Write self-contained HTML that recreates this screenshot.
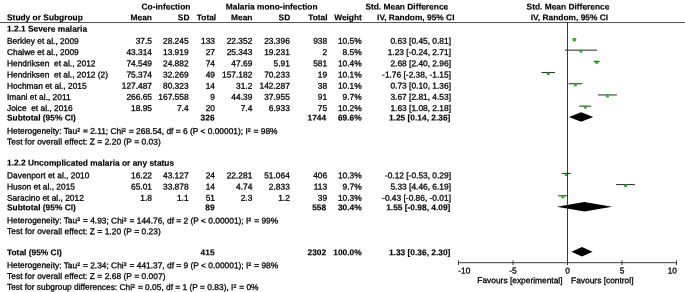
<!DOCTYPE html>
<html><head><meta charset="utf-8"><title>Forest plot</title>
<style>
html,body{margin:0;padding:0;background:#fff;}
svg{display:block;}
text{font-family:"Liberation Sans",sans-serif;font-size:8.4px;fill:#000;text-rendering:geometricPrecision;stroke:#000;stroke-width:0.28px;}
text[font-weight=bold]{stroke-width:0.15px;}
</style></head><body>
<svg width="685" height="292" viewBox="0 0 685 292">
<rect width="685" height="292" fill="#fff"/>
<text x="166.00" y="9.45" transform="rotate(0.05,166.00,9.45)" text-anchor="middle" font-weight="bold" xml:space="preserve">Co-infection</text>
<text x="271.70" y="9.45" transform="rotate(0.05,271.70,9.45)" text-anchor="middle" font-weight="bold" xml:space="preserve">Malaria mono-infection</text>
<text x="406.80" y="9.45" transform="rotate(0.05,406.80,9.45)" text-anchor="middle" font-weight="bold" xml:space="preserve">Std. Mean Difference</text>
<text x="568.00" y="9.45" transform="rotate(0.05,568.00,9.45)" text-anchor="middle" font-weight="bold" xml:space="preserve">Std. Mean Difference</text>
<text x="7.00" y="20.20" transform="rotate(0.05,7.00,20.20)" font-weight="bold" xml:space="preserve">Study or Subgroup</text>
<text x="152.00" y="20.20" transform="rotate(0.05,152.00,20.20)" text-anchor="end" font-weight="bold" xml:space="preserve">Mean</text>
<text x="189.50" y="20.20" transform="rotate(0.05,189.50,20.20)" text-anchor="end" font-weight="bold" xml:space="preserve">SD</text>
<text x="216.20" y="20.20" transform="rotate(0.05,216.20,20.20)" text-anchor="end" font-weight="bold" xml:space="preserve">Total</text>
<text x="252.50" y="20.20" transform="rotate(0.05,252.50,20.20)" text-anchor="end" font-weight="bold" xml:space="preserve">Mean</text>
<text x="290.20" y="20.20" transform="rotate(0.05,290.20,20.20)" text-anchor="end" font-weight="bold" xml:space="preserve">SD</text>
<text x="327.60" y="20.20" transform="rotate(0.05,327.60,20.20)" text-anchor="end" font-weight="bold" xml:space="preserve">Total</text>
<text x="361.90" y="20.20" transform="rotate(0.05,361.90,20.20)" text-anchor="end" font-weight="bold" xml:space="preserve">Weight</text>
<text x="415.80" y="20.20" transform="rotate(0.05,415.80,20.20)" text-anchor="middle" font-weight="bold" xml:space="preserve">IV, Random, 95% CI</text>
<text x="569.40" y="20.20" transform="rotate(0.05,569.40,20.20)" text-anchor="middle" font-weight="bold" xml:space="preserve">IV, Random, 95% CI</text>
<line x1="0" y1="22.55" x2="685" y2="22.55" stroke="#222" stroke-width="0.8"/>
<text x="7.00" y="31.60" transform="rotate(0.05,7.00,31.60)" font-weight="bold" xml:space="preserve">1.2.1 Severe malaria</text>
<text x="7.00" y="43.85" transform="rotate(0.05,7.00,43.85)" xml:space="preserve">Berkley et al., 2009</text>
<text x="152.00" y="43.85" transform="rotate(0.05,152.00,43.85)" text-anchor="end" xml:space="preserve">37.5</text>
<text x="188.60" y="43.85" transform="rotate(0.05,188.60,43.85)" text-anchor="end" xml:space="preserve">28.245</text>
<text x="215.00" y="43.85" transform="rotate(0.05,215.00,43.85)" text-anchor="end" xml:space="preserve">133</text>
<text x="252.30" y="43.85" transform="rotate(0.05,252.30,43.85)" text-anchor="end" xml:space="preserve">22.352</text>
<text x="289.80" y="43.85" transform="rotate(0.05,289.80,43.85)" text-anchor="end" xml:space="preserve">23.396</text>
<text x="327.20" y="43.85" transform="rotate(0.05,327.20,43.85)" text-anchor="end" xml:space="preserve">938</text>
<text x="361.70" y="43.85" transform="rotate(0.05,361.70,43.85)" text-anchor="end" xml:space="preserve">10.5%</text>
<text x="451.00" y="43.85" transform="rotate(0.05,451.00,43.85)" text-anchor="end" xml:space="preserve">0.63 [0.45, 0.81]</text>
<line x1="572.40" y1="38.95" x2="576.33" y2="38.95" stroke="#1a1a1a" stroke-width="0.95"/>
<rect x="572.97" y="38.50" width="2.8" height="0.9" fill="#00c000" fill-opacity="0.55"/>
<rect x="572.97" y="39.40" width="2.8" height="1.95" fill="#00c000"/>
<text x="7.00" y="55.05" transform="rotate(0.05,7.00,55.05)" xml:space="preserve">Chalwe et al., 2009</text>
<text x="152.00" y="55.05" transform="rotate(0.05,152.00,55.05)" text-anchor="end" xml:space="preserve">43.314</text>
<text x="188.60" y="55.05" transform="rotate(0.05,188.60,55.05)" text-anchor="end" xml:space="preserve">13.919</text>
<text x="215.00" y="55.05" transform="rotate(0.05,215.00,55.05)" text-anchor="end" xml:space="preserve">27</text>
<text x="252.30" y="55.05" transform="rotate(0.05,252.30,55.05)" text-anchor="end" xml:space="preserve">25.343</text>
<text x="289.80" y="55.05" transform="rotate(0.05,289.80,55.05)" text-anchor="end" xml:space="preserve">19.231</text>
<text x="327.20" y="55.05" transform="rotate(0.05,327.20,55.05)" text-anchor="end" xml:space="preserve">2</text>
<text x="361.70" y="55.05" transform="rotate(0.05,361.70,55.05)" text-anchor="end" xml:space="preserve">8.5%</text>
<text x="451.00" y="55.05" transform="rotate(0.05,451.00,55.05)" text-anchor="end" xml:space="preserve">1.23 [-0.24, 2.71]</text>
<line x1="564.88" y1="50.15" x2="597.04" y2="50.15" stroke="#1a1a1a" stroke-width="0.95"/>
<rect x="579.51" y="49.70" width="2.8" height="0.9" fill="#00c000" fill-opacity="0.55"/>
<rect x="579.51" y="50.60" width="2.8" height="1.95" fill="#00c000"/>
<text x="7.00" y="66.25" transform="rotate(0.05,7.00,66.25)" xml:space="preserve">Hendriksen  et al., 2012</text>
<text x="152.00" y="66.25" transform="rotate(0.05,152.00,66.25)" text-anchor="end" xml:space="preserve">74.549</text>
<text x="188.60" y="66.25" transform="rotate(0.05,188.60,66.25)" text-anchor="end" xml:space="preserve">24.882</text>
<text x="215.00" y="66.25" transform="rotate(0.05,215.00,66.25)" text-anchor="end" xml:space="preserve">74</text>
<text x="252.30" y="66.25" transform="rotate(0.05,252.30,66.25)" text-anchor="end" xml:space="preserve">47.69</text>
<text x="289.80" y="66.25" transform="rotate(0.05,289.80,66.25)" text-anchor="end" xml:space="preserve">5.91</text>
<text x="327.20" y="66.25" transform="rotate(0.05,327.20,66.25)" text-anchor="end" xml:space="preserve">581</text>
<text x="361.70" y="66.25" transform="rotate(0.05,361.70,66.25)" text-anchor="end" xml:space="preserve">10.4%</text>
<text x="451.00" y="66.25" transform="rotate(0.05,451.00,66.25)" text-anchor="end" xml:space="preserve">2.68 [2.40, 2.96]</text>
<line x1="593.66" y1="61.35" x2="599.76" y2="61.35" stroke="#1a1a1a" stroke-width="0.95"/>
<rect x="595.31" y="60.90" width="2.8" height="0.9" fill="#00c000" fill-opacity="0.55"/>
<rect x="595.31" y="61.80" width="2.8" height="1.95" fill="#00c000"/>
<text x="7.00" y="77.45" transform="rotate(0.05,7.00,77.45)" xml:space="preserve">Hendriksen  et al., 2012 (2)</text>
<text x="152.00" y="77.45" transform="rotate(0.05,152.00,77.45)" text-anchor="end" xml:space="preserve">75.374</text>
<text x="188.60" y="77.45" transform="rotate(0.05,188.60,77.45)" text-anchor="end" xml:space="preserve">32.269</text>
<text x="215.00" y="77.45" transform="rotate(0.05,215.00,77.45)" text-anchor="end" xml:space="preserve">49</text>
<text x="252.30" y="77.45" transform="rotate(0.05,252.30,77.45)" text-anchor="end" xml:space="preserve">157.182</text>
<text x="289.80" y="77.45" transform="rotate(0.05,289.80,77.45)" text-anchor="end" xml:space="preserve">70.233</text>
<text x="327.20" y="77.45" transform="rotate(0.05,327.20,77.45)" text-anchor="end" xml:space="preserve">19</text>
<text x="361.70" y="77.45" transform="rotate(0.05,361.70,77.45)" text-anchor="end" xml:space="preserve">10.1%</text>
<text x="451.00" y="77.45" transform="rotate(0.05,451.00,77.45)" text-anchor="end" xml:space="preserve">-1.76 [-2.38, -1.15]</text>
<line x1="541.56" y1="72.55" x2="554.97" y2="72.55" stroke="#1a1a1a" stroke-width="0.95"/>
<rect x="546.92" y="72.10" width="2.8" height="0.9" fill="#00c000" fill-opacity="0.55"/>
<rect x="546.92" y="73.00" width="2.8" height="1.95" fill="#00c000"/>
<text x="7.00" y="88.65" transform="rotate(0.05,7.00,88.65)" xml:space="preserve">Hochman et al., 2015</text>
<text x="152.00" y="88.65" transform="rotate(0.05,152.00,88.65)" text-anchor="end" xml:space="preserve">127.487</text>
<text x="188.60" y="88.65" transform="rotate(0.05,188.60,88.65)" text-anchor="end" xml:space="preserve">80.323</text>
<text x="215.00" y="88.65" transform="rotate(0.05,215.00,88.65)" text-anchor="end" xml:space="preserve">14</text>
<text x="252.30" y="88.65" transform="rotate(0.05,252.30,88.65)" text-anchor="end" xml:space="preserve">31.2</text>
<text x="289.80" y="88.65" transform="rotate(0.05,289.80,88.65)" text-anchor="end" xml:space="preserve">142.287</text>
<text x="327.20" y="88.65" transform="rotate(0.05,327.20,88.65)" text-anchor="end" xml:space="preserve">38</text>
<text x="361.70" y="88.65" transform="rotate(0.05,361.70,88.65)" text-anchor="end" xml:space="preserve">10.1%</text>
<text x="451.00" y="88.65" transform="rotate(0.05,451.00,88.65)" text-anchor="end" xml:space="preserve">0.73 [0.10, 1.36]</text>
<line x1="568.59" y1="83.75" x2="582.32" y2="83.75" stroke="#1a1a1a" stroke-width="0.95"/>
<rect x="574.06" y="83.30" width="2.8" height="0.9" fill="#00c000" fill-opacity="0.55"/>
<rect x="574.06" y="84.20" width="2.8" height="1.95" fill="#00c000"/>
<text x="7.00" y="99.85" transform="rotate(0.05,7.00,99.85)" xml:space="preserve">Imani et al., 2011</text>
<text x="152.00" y="99.85" transform="rotate(0.05,152.00,99.85)" text-anchor="end" xml:space="preserve">266.65</text>
<text x="188.60" y="99.85" transform="rotate(0.05,188.60,99.85)" text-anchor="end" xml:space="preserve">167.558</text>
<text x="215.00" y="99.85" transform="rotate(0.05,215.00,99.85)" text-anchor="end" xml:space="preserve">9</text>
<text x="252.30" y="99.85" transform="rotate(0.05,252.30,99.85)" text-anchor="end" xml:space="preserve">44.39</text>
<text x="289.80" y="99.85" transform="rotate(0.05,289.80,99.85)" text-anchor="end" xml:space="preserve">37.955</text>
<text x="327.20" y="99.85" transform="rotate(0.05,327.20,99.85)" text-anchor="end" xml:space="preserve">91</text>
<text x="361.70" y="99.85" transform="rotate(0.05,361.70,99.85)" text-anchor="end" xml:space="preserve">9.7%</text>
<text x="451.00" y="99.85" transform="rotate(0.05,451.00,99.85)" text-anchor="end" xml:space="preserve">3.67 [2.81, 4.53]</text>
<line x1="598.13" y1="94.95" x2="616.88" y2="94.95" stroke="#1a1a1a" stroke-width="0.95"/>
<rect x="606.10" y="94.50" width="2.8" height="0.9" fill="#00c000" fill-opacity="0.55"/>
<rect x="606.10" y="95.40" width="2.8" height="1.95" fill="#00c000"/>
<text x="7.00" y="111.05" transform="rotate(0.05,7.00,111.05)" xml:space="preserve">Joice  et al., 2016</text>
<text x="152.00" y="111.05" transform="rotate(0.05,152.00,111.05)" text-anchor="end" xml:space="preserve">18.95</text>
<text x="188.60" y="111.05" transform="rotate(0.05,188.60,111.05)" text-anchor="end" xml:space="preserve">7.4</text>
<text x="215.00" y="111.05" transform="rotate(0.05,215.00,111.05)" text-anchor="end" xml:space="preserve">20</text>
<text x="252.30" y="111.05" transform="rotate(0.05,252.30,111.05)" text-anchor="end" xml:space="preserve">7.4</text>
<text x="289.80" y="111.05" transform="rotate(0.05,289.80,111.05)" text-anchor="end" xml:space="preserve">6.933</text>
<text x="327.20" y="111.05" transform="rotate(0.05,327.20,111.05)" text-anchor="end" xml:space="preserve">75</text>
<text x="361.70" y="111.05" transform="rotate(0.05,361.70,111.05)" text-anchor="end" xml:space="preserve">10.2%</text>
<text x="451.00" y="111.05" transform="rotate(0.05,451.00,111.05)" text-anchor="end" xml:space="preserve">1.63 [1.08, 2.18]</text>
<line x1="579.27" y1="106.15" x2="591.26" y2="106.15" stroke="#1a1a1a" stroke-width="0.95"/>
<rect x="583.87" y="105.70" width="2.8" height="0.9" fill="#00c000" fill-opacity="0.55"/>
<rect x="583.87" y="106.60" width="2.8" height="1.95" fill="#00c000"/>
<text x="7.00" y="120.50" transform="rotate(0.05,7.00,120.50)" font-weight="bold" xml:space="preserve">Subtotal (95% CI)</text>
<text x="214.60" y="120.50" transform="rotate(0.05,214.60,120.50)" text-anchor="end" font-weight="bold" xml:space="preserve">326</text>
<text x="326.20" y="120.50" transform="rotate(0.05,326.20,120.50)" text-anchor="end" font-weight="bold" xml:space="preserve">1744</text>
<text x="361.70" y="120.50" transform="rotate(0.05,361.70,120.50)" text-anchor="end" font-weight="bold" xml:space="preserve">69.6%</text>
<text x="450.40" y="120.50" transform="rotate(0.05,450.40,120.50)" text-anchor="end" font-weight="bold" xml:space="preserve">1.25 [0.14, 2.36]</text>
<polygon points="569.03,117.00 581.12,112.25 593.22,117.00 581.12,121.75" fill="#000"/>
<text x="7.00" y="133.80" transform="rotate(0.05,7.00,133.80)" xml:space="preserve">Heterogeneity: Tau²<tspan dx="0.7"> = 2.11; Chi</tspan>²<tspan dx="0.7"> = 268.54, df = 6 (P &lt; 0.00001); I</tspan>²<tspan dx="0.7"> = 98%</tspan></text>
<text x="7.00" y="144.50" transform="rotate(0.05,7.00,144.50)" textLength="153.8" lengthAdjust="spacing" xml:space="preserve">Test for overall effect: Z = 2.20 (P = 0.03)</text>
<text x="7.00" y="165.60" transform="rotate(0.05,7.00,165.60)" font-weight="bold" xml:space="preserve">1.2.2 Uncomplicated malaria or any status</text>
<text x="7.00" y="178.30" transform="rotate(0.05,7.00,178.30)" xml:space="preserve">Davenport et al., 2010</text>
<text x="152.00" y="178.30" transform="rotate(0.05,152.00,178.30)" text-anchor="end" xml:space="preserve">16.22</text>
<text x="188.60" y="178.30" transform="rotate(0.05,188.60,178.30)" text-anchor="end" xml:space="preserve">43.127</text>
<text x="215.00" y="178.30" transform="rotate(0.05,215.00,178.30)" text-anchor="end" xml:space="preserve">24</text>
<text x="252.30" y="178.30" transform="rotate(0.05,252.30,178.30)" text-anchor="end" xml:space="preserve">22.281</text>
<text x="289.80" y="178.30" transform="rotate(0.05,289.80,178.30)" text-anchor="end" xml:space="preserve">51.064</text>
<text x="327.20" y="178.30" transform="rotate(0.05,327.20,178.30)" text-anchor="end" xml:space="preserve">406</text>
<text x="361.70" y="178.30" transform="rotate(0.05,361.70,178.30)" text-anchor="end" xml:space="preserve">10.3%</text>
<text x="451.00" y="178.30" transform="rotate(0.05,451.00,178.30)" text-anchor="end" xml:space="preserve">-0.12 [-0.53, 0.29]</text>
<line x1="561.72" y1="173.40" x2="570.66" y2="173.40" stroke="#1a1a1a" stroke-width="0.95"/>
<rect x="564.79" y="172.95" width="2.8" height="0.9" fill="#00c000" fill-opacity="0.55"/>
<rect x="564.79" y="173.85" width="2.8" height="1.95" fill="#00c000"/>
<text x="7.00" y="189.50" transform="rotate(0.05,7.00,189.50)" xml:space="preserve">Huson et al., 2015</text>
<text x="152.00" y="189.50" transform="rotate(0.05,152.00,189.50)" text-anchor="end" xml:space="preserve">65.01</text>
<text x="188.60" y="189.50" transform="rotate(0.05,188.60,189.50)" text-anchor="end" xml:space="preserve">33.878</text>
<text x="215.00" y="189.50" transform="rotate(0.05,215.00,189.50)" text-anchor="end" xml:space="preserve">14</text>
<text x="252.30" y="189.50" transform="rotate(0.05,252.30,189.50)" text-anchor="end" xml:space="preserve">4.74</text>
<text x="289.80" y="189.50" transform="rotate(0.05,289.80,189.50)" text-anchor="end" xml:space="preserve">2.833</text>
<text x="327.20" y="189.50" transform="rotate(0.05,327.20,189.50)" text-anchor="end" xml:space="preserve">113</text>
<text x="361.70" y="189.50" transform="rotate(0.05,361.70,189.50)" text-anchor="end" xml:space="preserve">9.7%</text>
<text x="451.00" y="189.50" transform="rotate(0.05,451.00,189.50)" text-anchor="end" xml:space="preserve">5.33 [4.46, 6.19]</text>
<line x1="616.11" y1="184.60" x2="634.97" y2="184.60" stroke="#1a1a1a" stroke-width="0.95"/>
<rect x="624.20" y="184.15" width="2.8" height="0.9" fill="#00c000" fill-opacity="0.55"/>
<rect x="624.20" y="185.05" width="2.8" height="1.95" fill="#00c000"/>
<text x="7.00" y="200.70" transform="rotate(0.05,7.00,200.70)" xml:space="preserve">Saracino et al., 2012</text>
<text x="152.00" y="200.70" transform="rotate(0.05,152.00,200.70)" text-anchor="end" xml:space="preserve">1.8</text>
<text x="188.60" y="200.70" transform="rotate(0.05,188.60,200.70)" text-anchor="end" xml:space="preserve">1.1</text>
<text x="215.00" y="200.70" transform="rotate(0.05,215.00,200.70)" text-anchor="end" xml:space="preserve">51</text>
<text x="252.30" y="200.70" transform="rotate(0.05,252.30,200.70)" text-anchor="end" xml:space="preserve">2.3</text>
<text x="289.80" y="200.70" transform="rotate(0.05,289.80,200.70)" text-anchor="end" xml:space="preserve">1.2</text>
<text x="327.20" y="200.70" transform="rotate(0.05,327.20,200.70)" text-anchor="end" xml:space="preserve">39</text>
<text x="361.70" y="200.70" transform="rotate(0.05,361.70,200.70)" text-anchor="end" xml:space="preserve">10.3%</text>
<text x="451.00" y="200.70" transform="rotate(0.05,451.00,200.70)" text-anchor="end" xml:space="preserve">-0.43 [-0.86, -0.01]</text>
<line x1="558.13" y1="195.80" x2="567.39" y2="195.80" stroke="#1a1a1a" stroke-width="0.95"/>
<rect x="561.41" y="195.35" width="2.8" height="0.9" fill="#00c000" fill-opacity="0.55"/>
<rect x="561.41" y="196.25" width="2.8" height="1.95" fill="#00c000"/>
<text x="7.00" y="210.20" transform="rotate(0.05,7.00,210.20)" font-weight="bold" xml:space="preserve">Subtotal (95% CI)</text>
<text x="214.60" y="210.20" transform="rotate(0.05,214.60,210.20)" text-anchor="end" font-weight="bold" xml:space="preserve">89</text>
<text x="326.20" y="210.20" transform="rotate(0.05,326.20,210.20)" text-anchor="end" font-weight="bold" xml:space="preserve">558</text>
<text x="361.70" y="210.20" transform="rotate(0.05,361.70,210.20)" text-anchor="end" font-weight="bold" xml:space="preserve">30.4%</text>
<text x="450.40" y="210.20" transform="rotate(0.05,450.40,210.20)" text-anchor="end" font-weight="bold" xml:space="preserve">1.55 [-0.98, 4.09]</text>
<polygon points="556.82,206.70 584.39,201.95 612.08,206.70 584.39,211.45" fill="#000"/>
<text x="7.00" y="223.30" transform="rotate(0.05,7.00,223.30)" xml:space="preserve">Heterogeneity: Tau²<tspan dx="0.7"> = 4.93; Chi</tspan>²<tspan dx="0.7"> = 144.76, df = 2 (P &lt; 0.00001); I</tspan>²<tspan dx="0.7"> = 99%</tspan></text>
<text x="7.00" y="234.10" transform="rotate(0.05,7.00,234.10)" textLength="153.8" lengthAdjust="spacing" xml:space="preserve">Test for overall effect: Z = 1.20 (P = 0.23)</text>
<text x="7.00" y="255.30" transform="rotate(0.05,7.00,255.30)" font-weight="bold" xml:space="preserve">Total (95% CI)</text>
<text x="214.60" y="255.30" transform="rotate(0.05,214.60,255.30)" text-anchor="end" font-weight="bold" xml:space="preserve">415</text>
<text x="326.20" y="255.30" transform="rotate(0.05,326.20,255.30)" text-anchor="end" font-weight="bold" xml:space="preserve">2302</text>
<text x="361.70" y="255.30" transform="rotate(0.05,361.70,255.30)" text-anchor="end" font-weight="bold" xml:space="preserve">100.0%</text>
<text x="450.40" y="255.30" transform="rotate(0.05,450.40,255.30)" text-anchor="end" font-weight="bold" xml:space="preserve">1.33 [0.36, 2.30]</text>
<polygon points="571.42,251.80 582.00,247.05 592.57,251.80 582.00,256.55" fill="#000"/>
<text x="7.00" y="268.10" transform="rotate(0.05,7.00,268.10)" xml:space="preserve">Heterogeneity: Tau²<tspan dx="0.7"> = 2.34; Chi</tspan>²<tspan dx="0.7"> = 441.37, df = 9 (P &lt; 0.00001); I</tspan>²<tspan dx="0.7"> = 98%</tspan></text>
<text x="7.00" y="279.00" transform="rotate(0.05,7.00,279.00)" textLength="158.5" lengthAdjust="spacing" xml:space="preserve">Test for overall effect: Z = 2.68 (P = 0.007)</text>
<text x="7.00" y="289.80" transform="rotate(0.05,7.00,289.80)" xml:space="preserve">Test for subgroup differences: Chi²<tspan dx="0.7"> = 0.05, df = 1 (P = 0.83), I</tspan>²<tspan dx="0.7"> = 0%</tspan></text>
<line x1="567.50" y1="22.5" x2="567.50" y2="265.0" stroke="#222" stroke-width="0.9"/>
<line x1="458.5" y1="262.7" x2="676.5" y2="262.7" stroke="#222" stroke-width="0.9"/>
<line x1="458.50" y1="260.4" x2="458.50" y2="265.0" stroke="#222" stroke-width="0.9"/>
<text x="458.20" y="273.60" transform="rotate(0.05,458.20,273.60)" xml:space="preserve">-10</text>
<line x1="513.00" y1="260.4" x2="513.00" y2="265.0" stroke="#222" stroke-width="0.9"/>
<text x="513.00" y="273.60" transform="rotate(0.05,513.00,273.60)" text-anchor="middle" xml:space="preserve">-5</text>
<line x1="567.50" y1="260.4" x2="567.50" y2="265.0" stroke="#222" stroke-width="0.9"/>
<text x="567.50" y="273.60" transform="rotate(0.05,567.50,273.60)" text-anchor="middle" xml:space="preserve">0</text>
<line x1="622.00" y1="260.4" x2="622.00" y2="265.0" stroke="#222" stroke-width="0.9"/>
<text x="622.00" y="273.60" transform="rotate(0.05,622.00,273.60)" text-anchor="middle" xml:space="preserve">5</text>
<line x1="676.50" y1="260.4" x2="676.50" y2="265.0" stroke="#222" stroke-width="0.9"/>
<text x="677.00" y="273.60" transform="rotate(0.05,677.00,273.60)" text-anchor="end" xml:space="preserve">10</text>
<text x="562.50" y="283.20" transform="rotate(0.05,562.50,283.20)" text-anchor="end" xml:space="preserve">Favours [experimental]</text>
<text x="571.10" y="283.20" transform="rotate(0.05,571.10,283.20)" xml:space="preserve">Favours [control]</text>
</svg>
</body></html>
